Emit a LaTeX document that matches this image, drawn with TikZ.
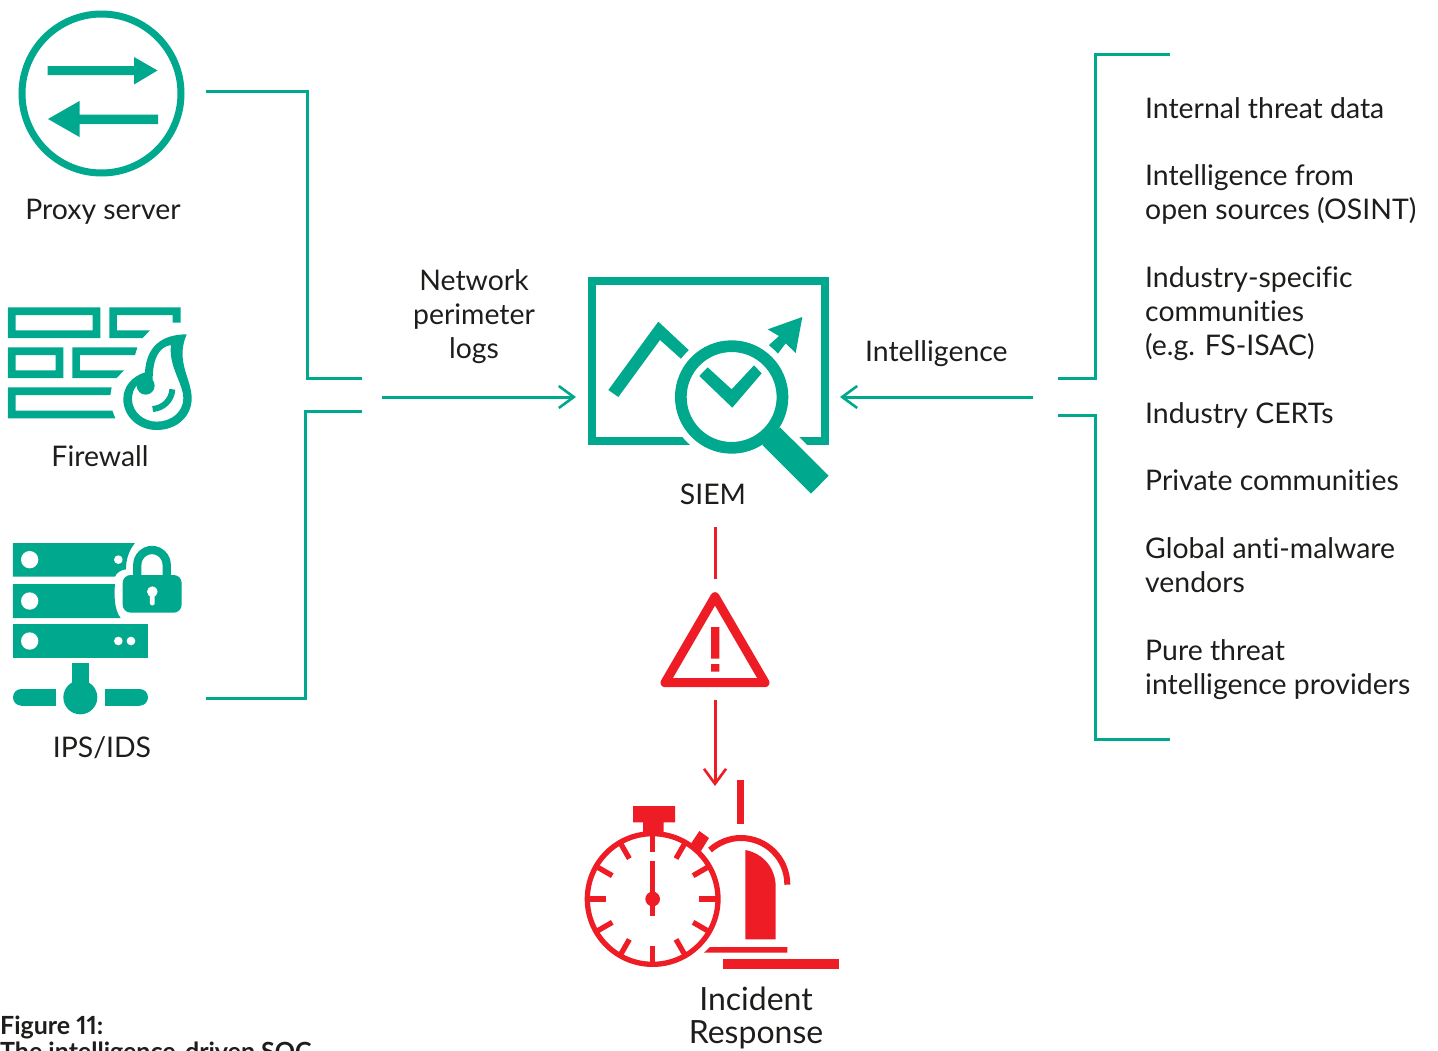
\documentclass[tikz,border=0pt]{standalone}
\usepackage{fontspec}
\setmainfont[Ligatures=NoCommon,Numbers=Proportional]{Lato}
\usetikzlibrary{arrows.meta}
\definecolor{teal1}{HTML}{00A88E}
\definecolor{red1}{HTML}{EE1C25}
\definecolor{ink}{HTML}{1D1D1B}
\tikzset{
  lbl/.style={text=ink,inner sep=0pt,font=\fontsize{28.4}{34}\selectfont},
  lblL/.style={lbl,anchor=base west,align=left},
  lblC/.style={lbl,anchor=base,align=center},
  tealline/.style={draw=teal1,line width=3pt},
  redline/.style={draw=red1,line width=3pt},
  tip/.style={-{Straight Barb[length=15pt,width=22pt,line width=2.6pt]}},
  tf/.style={fill=teal1,draw=none},
  rf/.style={fill=red1,draw=none},
  wf/.style={fill=white,draw=none},
}
\begin{document}
\begin{tikzpicture}[x=1pt,y=-1pt]
\useasboundingbox (0,0) rectangle (1438,1050);
\clip (0,0) rectangle (1438,1050);
% ---- proxy icon
\draw[teal1,line width=7pt] (101.5,93.5) circle[radius=79.5];
\fill[tf] (47.7,66)--(134,66)--(134,57)--(157.5,70.5)--(134,84.5)--(134,75)--(47.7,75)--cycle;
\fill[tf] (158,114.7)--(79.5,114.7)--(79.5,101)--(48,119)--(79.5,137)--(79.5,124)--(158,124)--cycle;
% ---- firewall icon
\begin{scope}[shift={(0,295)},scale=1/3]
\fill[tf,even odd rule] (24,37) rectangle (301,129) (47,60) rectangle (278,106);
\fill[tf] (328,37)--(542,37)--(542,83)--(518,83)--(518,60)--(351,60)--(351,106)--(450,106)--(428,129)--(328,129)--cycle;
\fill[tf,even odd rule] (24,157) rectangle (190,249) (47,180) rectangle (167,226);
\fill[tf] (217,157)--(412,157)--(405,180)--(240,180)--(240,226)--(372,226)--(350,249)--(217,249)--cycle;
\fill[tf] (24,277)--(335,277)--(331,300)--(47,300)--(47,347)--(337,347)--(346,370)--(24,370)--cycle;
\fill[tf,even odd rule]
  (560,118) .. controls (510,118) and (440,135) .. (435,232)
  .. controls (395,245) and (370,275) .. (370,312)
  .. controls (370,365) and (415,405) .. (470,405)
  .. controls (530,405) and (575,365) .. (575,310)
  .. controls (575,250) and (525,200) .. (560,118) -- cycle
  (513,150) .. controls (480,155) and (458,185) .. (458,255)
  .. controls (458,262) and (415,262) .. (412,270)
  .. controls (402,280) and (396,295) .. (396,312)
  .. controls (396,350) and (430,380) .. (470,380)
  .. controls (515,380) and (550,350) .. (550,310)
  .. controls (550,265) and (505,215) .. (513,150) -- cycle;
\fill[tf] (437,272) circle[radius=27];
\draw[teal1,line width=6pt] (517,283) .. controls (515,315) and (490,340) .. (458,342);
\end{scope}
% ---- IPS icon
\begin{scope}[shift={(0,530)},scale=1/3]
\fill[tf] (39,39)--(405,39) .. controls (388,60) and (378,85) .. (378,118) .. controls (362,120) and (350,128) .. (345,140)--(39,140)--cycle;
\fill[tf] (39,162)--(345,162) .. controls (342,190) and (342,240) .. (362,264)--(39,264)--cycle;
\fill[tf] (39,282) rectangle (444,383);
\fill[wf] (89,89) circle[radius=26] (89,213) circle[radius=26] (89,333) circle[radius=26]
  (355,89) circle[radius=13] (355,333) circle[radius=13] (393,333) circle[radius=13];
\fill[tf] (217,400) rectangle (267,470);
\fill[tf] (241,502) circle[radius=51];
\fill[tf] (64,477) rectangle (167,527);
\fill[tf] (64,502) circle[radius=25];
\fill[tf] (316,477) rectangle (419,527);
\fill[tf] (419,502) circle[radius=25];
\draw[teal1,line width=8.3pt] (412,140)--(412,104) .. controls (412,80) and (432,60) .. (456,60) .. controls (480,60) and (500,80) .. (500,104)--(500,140);
\fill[tf,rounded corners=8pt] (368,135) rectangle (545,248);
\fill[wf] (457,185) circle[radius=16];
\fill[wf,rounded corners=2pt] (450,185) rectangle (464,226);
\end{scope}
% ---- SIEM icon
\begin{scope}[shift={(575,265)},scale=1/3]
\draw[teal1,line width=7.7pt] (51.5,48.5) rectangle (749.5,528.5);
\fill[tf] (100,375)--(250,170)--(342,256)--(320,283)--(255,225)--(130,396)--cycle;
\fill[tf] (578,193)--(682,156)--(662,264)--(632,235)--(608,267)--(582,240)--(612,213)--cycle;
\fill[wf] (470,396) circle[radius=190];
\draw[white,line width=38pt] (560,485)--(735,659);
\fill[tf] (615,487)--(761,632)--(708,686)--(562,540)--cycle;
\draw[teal1,line width=11.7pt] (470,396) circle[radius=152.5];
\fill[tf] (373,333)--(398,307)--(470,373)--(537,301)--(560,325)--(472,428)--cycle;
\end{scope}
% ---- alert icon
\begin{scope}[shift={(640,520)},scale=1/3]
\draw[red1,line width=9pt,line join=round] (225,230)--(375,488)--(75,488)--cycle;
\fill[rf] (213,321) rectangle (238,416) (213,432) rectangle (238,455);
\end{scope}
% ---- response icon
\begin{scope}[shift={(570,770)},scale=1/3]
\fill[rf] (189,108) rectangle (315,157) (219,157) rectangle (281,195);
\draw[red1,line width=5.3pt] (248,387) circle[radius=196];
\foreach \a in {0,30,...,330}{
  \draw[red1,line width=5.3pt] (248,387) ++(\a:190) -- ++(\a+180:50);
}
\draw[red1,line width=5.3pt] (248,272)--(248,437);
\fill[rf] (248,387) circle[radius=22];
\fill[rf] (388,183)--(417,204)--(393,243)--(362,222)--cycle;
\fill[rf] (502,30) rectangle (521,163);
\draw[red1,line width=6pt] (420,240) .. controls (445,218) and (478,204) .. (512,204) .. controls (590,204) and (652,266) .. (652,344);
\fill[rf] (526,240) .. controls (580,250) and (617,295) .. (617,350)--(617,508)--(526,508)--cycle;
\fill[rf] (402,548)--(420,531)--(652,531)--(652,548)--cycle;
\fill[rf] (459,567) rectangle (807,597);
\end{scope}
% ---- labels
\node[lblC] (proxy) at (103,219) {Proxy server};
\node[lblC] (firewall) at (100,466) {Firewall};
\node[lblC] (ips) at (102,757) {IPS/IDS};
\node[lblC] (perimeter) at (474,358) {Network\\perimeter\\logs};
\node[lblC] (siem) at (713,504) {SIEM};
\node[lblL] (intel) at (865,361) {Intelligence};
\node[lblC,font=\fontsize{32}{33}\selectfont] (incident) at (756,1043) {Incident\\Response};
\node[lblL] (s1) at (1145,118) {Internal threat data};
\node[lblL] (s2) at (1145,219) {Intelligence from\\open sources (OSINT)};
\node[lblL] (s3) at (1145,355) {Industry-specific\\communities\\(e.g. FS-ISAC)};
\node[lblL] (s4) at (1145,423) {Industry CERTs};
\node[lblL] (s5) at (1145,490) {Private communities};
\node[lblL] (s6) at (1145,592) {Global anti-malware\\vendors};
\node[lblL] (s7) at (1145,694) {Pure threat\\intelligence providers};
\node[lbl,anchor=base west,align=left,font=\fontsize{25}{26}\selectfont\bfseries] (cap) at (0,1060) {Figure 11:\\The intelligence-driven SOC};
% ---- connector ends
\coordinate (pA) at (206,91); \coordinate (pB) at (307,91); \coordinate (pC) at (307,378); \coordinate (pD) at (362,378);
\coordinate (iA) at (206,698); \coordinate (iB) at (305,698); \coordinate (iC) at (305,411); \coordinate (iD) at (362,411);
\coordinate (lA) at (382,397); \coordinate (lB) at (576,397);
\coordinate (rA) at (1033,397); \coordinate (rB) at (840,397);
\coordinate (tA) at (1170,54); \coordinate (tB) at (1095,54); \coordinate (tC) at (1095,378); \coordinate (tD) at (1058,378);
\coordinate (bA) at (1170,739); \coordinate (bB) at (1095,739); \coordinate (bC) at (1095,415); \coordinate (bD) at (1058,415);
\coordinate (aA) at (715,527); \coordinate (aB) at (715,579);
\coordinate (aC) at (715,700); \coordinate (aD) at (715,786);
% ---- connectors
\draw[tealline] (pA)--(pB)--(pC)--(pD);
\draw[tealline] (iA)--(iB)--(iC)--(iD);
\draw[tealline,tip] (lA)--(lB);
\draw[tealline,tip] (rA)--(rB);
\draw[tealline] (tA)--(tB)--(tC)--(tD);
\draw[tealline] (bA)--(bB)--(bC)--(bD);
\draw[redline] (aA)--(aB);
\draw[redline,tip] (aC)--(aD);
\end{tikzpicture}
\end{document}
